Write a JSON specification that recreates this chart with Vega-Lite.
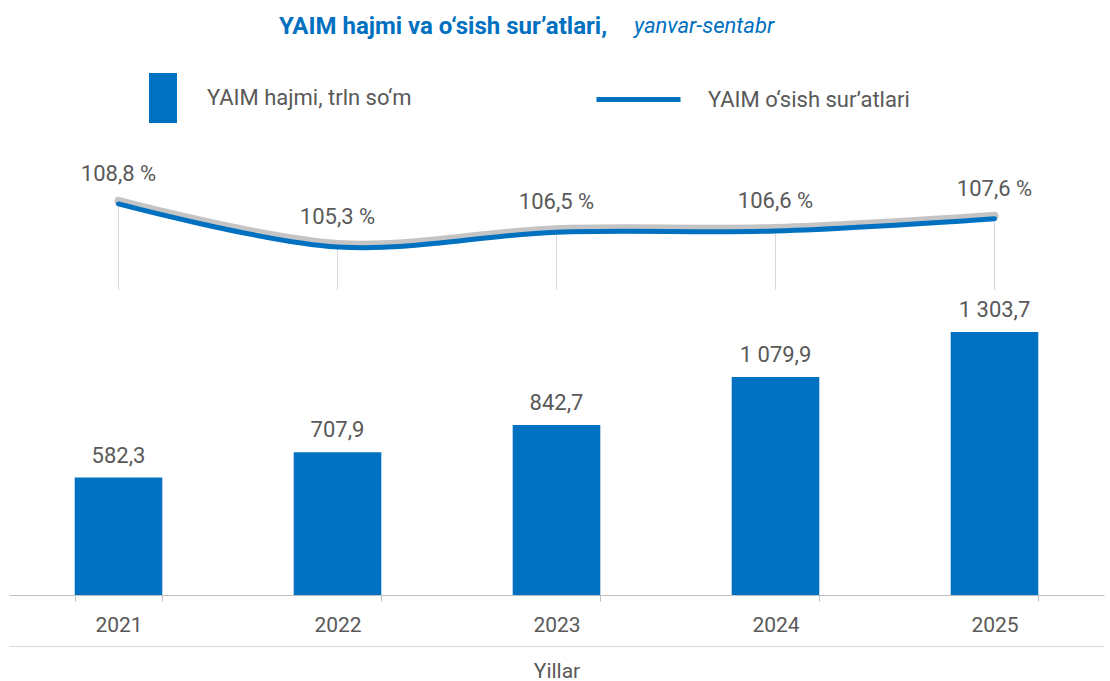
{
  "$schema": "https://vega.github.io/schema/vega-lite/v6.json",
  "width": 1095,
  "height": 455,
  "autosize": "none",
  "padding": {"left": 9, "top": 140, "right": 6, "bottom": 86},
  "background": "white",
  "title": {
    "text": "YAIM hajmi va o‘sish sur’atlari,",
    "anchor": "start",
    "frame": "group",
    "dx": 270,
    "offset": -24,
    "font": "Roboto",
    "fontSize": 24,
    "fontWeight": "bold",
    "color": "#0070C0"
  },
  "data": {
    "values": [
      {"year": "2021", "gdp": 582.3, "rate": 108.8},
      {"year": "2022", "gdp": 707.9, "rate": 105.3},
      {"year": "2023", "gdp": 842.7, "rate": 106.5},
      {"year": "2024", "gdp": 1079.9, "rate": 106.6},
      {"year": "2025", "gdp": 1303.7, "rate": 107.6}
    ]
  },
  "transform": [
    {"calculate": "replace(replace(format(datum.gdp, ',.1f'), ',', ' '), '.', ',')", "as": "gdpLabel"},
    {"calculate": "replace(format(datum.rate, '.1f'), '.', ',') + ' %'", "as": "rateLabel"}
  ],
  "layer": [
    {
      "layer": [
        {
          "mark": {"type": "bar"},
          "encoding": {
            "x": {
              "field": "year", "type": "ordinal",
              "scale": {"paddingInner": 0.6, "paddingOuter": 0.3},
              "axis": {
                "title": null, "labelAngle": 0, "grid": false,
                "domainColor": "#bfbfbf", "tickColor": "#bfbfbf", "tickBand": "extent", "tickSize": 6,
                "labelFont": "Roboto", "labelFontSize": 21, "labelColor": "#595959", "labelPadding": 13
              }
            },
            "y": {"field": "gdp", "type": "quantitative", "scale": {"domain": [0, 2255], "nice": false}, "axis": null},
            "fill": {
              "datum": "YAIM hajmi, trln so‘m", "type": "nominal",
              "scale": {"range": ["#0070C0"]},
              "legend": {
                "orient": "none", "legendX": 129, "legendY": -67, "title": null, "padding": 0,
                "symbolType": "M-0.56,-1H0.56V1H-0.56Z", "symbolSize": 2500, "symbolStrokeWidth": 0,
                "labelFont": "Roboto", "labelFontSize": 22, "labelColor": "#595959", "labelOffset": 19, "labelLimit": 400
              }
            },
            "opacity": {
              "datum": "yanvar-sentabr", "type": "nominal",
              "scale": {"range": [1]},
              "legend": {
                "orient": "none", "legendX": 603, "legendY": -125, "title": null, "padding": 0,
                "symbolSize": 0, "symbolStrokeWidth": 0, "symbolFillColor": "transparent",
                "labelFont": "Roboto", "labelFontSize": 22, "labelFontStyle": "italic", "labelColor": "#0070C0", "labelOffset": 0, "labelLimit": 400
              }
            }
          }
        },
        {
          "mark": {"type": "text", "font": "Roboto", "fontSize": 22, "color": "#595959", "baseline": "middle", "dy": -22},
          "encoding": {
            "x": {"field": "year", "type": "ordinal"},
            "y": {"field": "gdp", "type": "quantitative"},
            "text": {"field": "gdpLabel"}
          }
        }
      ]
    },
    {
      "layer": [
        {
          "mark": {"type": "rule", "color": "#d9d9d9", "strokeWidth": 1},
          "encoding": {
            "x": {
              "field": "year", "type": "ordinal",
              "axis": {
                "title": "Yillar", "orient": "bottom", "offset": 51, "labels": false, "ticks": false, "grid": false,
                "domainColor": "#d9d9d9", "titleFont": "Roboto", "titleFontSize": 21, "titleFontWeight": "normal",
                "titleColor": "#595959", "titlePadding": 14
              }
            },
            "y": {"field": "rate", "type": "quantitative", "scale": {"domain": [77, 114], "nice": false}, "axis": null},
            "y2": {"datum": 101.8}
          }
        },
        {
          "mark": {"type": "line", "interpolate": "catmull-rom", "color": "#555555", "opacity": 0.35, "strokeWidth": 8, "yOffset": -3, "strokeCap": "round"},
          "encoding": {
            "x": {"field": "year", "type": "ordinal"},
            "y": {"field": "rate", "type": "quantitative"}
          }
        },
        {
          "mark": {"type": "line", "interpolate": "catmull-rom", "strokeWidth": 5, "strokeCap": "round"},
          "encoding": {
            "x": {"field": "year", "type": "ordinal"},
            "y": {"field": "rate", "type": "quantitative"},
            "stroke": {
              "datum": "YAIM o‘sish sur’atlari", "type": "nominal",
              "scale": {"range": ["#0070C0"]},
              "legend": {
                "orient": "none", "legendX": 585, "legendY": -85, "title": null, "padding": 0,
                "symbolType": "stroke", "symbolSize": 7056, "symbolStrokeWidth": 5,
                "labelFont": "Roboto", "labelFontSize": 22, "labelColor": "#595959", "labelOffset": 25, "labelLimit": 400
              }
            }
          }
        },
        {
          "mark": {"type": "text", "font": "Roboto", "fontSize": 22, "color": "#595959", "baseline": "middle", "dy": -30},
          "encoding": {
            "x": {"field": "year", "type": "ordinal"},
            "y": {"field": "rate", "type": "quantitative"},
            "text": {"field": "rateLabel"}
          }
        }
      ]
    }
  ],
  "resolve": {"scale": {"y": "independent"}, "axis": {"x": "independent"}},
  "config": {"view": {"stroke": null}}
}
